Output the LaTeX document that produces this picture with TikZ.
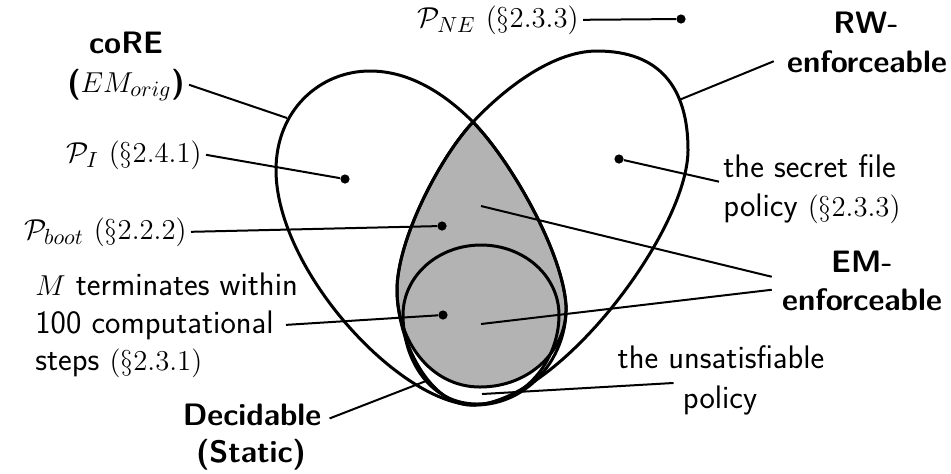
\documentclass[tikz,border=0pt]{standalone}
\usetikzlibrary{calc}
\definecolor{emgray}{RGB}{179,179,179}
\newcommand{\mth}[1]{{\fontsize{15.5}{19}\selectfont$#1$}}
\tikzset{
  setline/.style={line width=1.5pt, line join=round},
  leader/.style={line width=1pt},
  dotnode/.style={circle, fill=black, inner sep=0pt, minimum size=4.6pt},
  lbl/.style={inner sep=2pt, font=\sffamily\fontsize{16.3}{19}\selectfont},
  blbl/.style={inner sep=2pt, font=\sffamily\bfseries\fontsize{15.5}{19}\selectfont},
}
\begin{document}
\begin{tikzpicture}[x=0.5pt,y=-0.5pt]
\useasboundingbox (0,0) rectangle (951,473);
% key points
\coordinate (X) at (473,122);
\coordinate (R) at (566,305);
\coordinate (L) at (397,290);
% EM-enforceable (gray)
\fill[emgray] (X) .. controls (510,160) and (562,250) .. (R)
  .. controls (568,350) and (530,387) .. (480,387)
  .. controls (430,387) and (397,340) .. (L)
  .. controls (397,240) and (440,157) .. (X) -- cycle;
\draw[setline] (X) .. controls (510,160) and (562,250) .. (R)
  .. controls (568,350) and (530,387) .. (480,387)
  .. controls (430,387) and (397,340) .. (L)
  .. controls (397,240) and (440,157) .. (X) -- cycle;
% coRE
\draw[setline] (X) .. controls (510,160) and (562,250) .. (R)
  .. controls (568,355) and (530,405) .. (475,405)
  .. controls (400,405) and (276,270) .. (276,170)
  .. controls (276,110) and (320,71) .. (370,71)
  .. controls (410,71) and (445,94) .. (X) -- cycle;
% RW-enforceable
\draw[setline] (X) .. controls (500,93) and (550,51) .. (597,51)
  .. controls (660,51) and (688,88) .. (688,150)
  .. controls (688,230) and (560,400) .. (475,405)
  .. controls (430,408) and (397,340) .. (L)
  .. controls (397,240) and (440,157) .. (X) -- cycle;
% Decidable (Static)
\draw[setline] (481,245) .. controls (524,245) and (559,276) .. (559,315)
  .. controls (559,360) and (525,404) .. (477,404)
  .. controls (430,404) and (403,360) .. (403,315)
  .. controls (403,276) and (438,245) .. (481,245) -- cycle;

% labels
\node[lbl, anchor=base east] (pne) at (583,27) {\mth{\mathcal{P}_{NE}} \mth{(\S2.3.3)}};
\node[dotnode] (dne) at (681,19) {};
\draw[leader] (pne.east) -- (dne);

\node[blbl, anchor=base] (core1) at (126,53) {coRE};
\node[blbl, anchor=base] (core2) at (126,92) {(\mth{EM_{orig}})};
\coordinate (ccore) at (287,118);
\draw[leader] (core2.east) -- (ccore);

\node[lbl, anchor=base east] (pi) at (206,162) {\mth{\mathcal{P}_I} \mth{(\S2.4.1)}};
\node[dotnode] (dpi) at (345,179) {};
\draw[leader] (pi.east) -- (dpi);

\node[lbl, anchor=base east] (pb) at (191,239) {\mth{\mathcal{P}_{boot}} \mth{(\S2.2.2)}};
\node[dotnode] (dpb) at (442,226) {};
\draw[leader] (pb.east) -- (dpb);

\node[lbl, anchor=base west] (mt1) at (31,295) {\mth{M} terminates within};
\node[lbl, anchor=base west] (mt2) at (31,333) {100 computational};
\node[lbl, anchor=base west] (mt3) at (31,370) {steps \mth{(\S2.3.1)}};
\node[dotnode] (dm) at (443,315) {};
\draw[leader] ([xshift=4pt]mt2.east) -- (dm);

\node[blbl, anchor=base] (dec1) at (252,425) {Decidable};
\node[blbl, anchor=base] (dec2) at (251,462) {(Static)};
\coordinate (cdec) at (426,381);
\draw[leader] ([xshift=2pt,yshift=-2pt]dec1.east) -- (cdec);

\node[blbl, anchor=base] (rw1) at (866,33) {RW-};
\node[blbl, anchor=base] (rw2) at (867,72) {enforceable};
\coordinate (crw) at (679,100);
\draw[leader] ([xshift=-4.5pt]rw2.west) -- (crw);

\node[lbl, anchor=base west] (sf1) at (719,177) {the secret file};
\node[lbl, anchor=base west] (sf2) at (719,216) {policy \mth{(\S2.3.3)}};
\node[dotnode] (dsf) at (619,159) {};
\draw[leader] (sf1.south west) -- (dsf);

\node[blbl, anchor=base] (em1) at (862,272) {EM-};
\node[blbl, anchor=base] (em2) at (862,310) {enforceable};
\coordinate (cem1) at (481,206);
\coordinate (cem2) at (481,324);
\draw[leader] ($(em2.north west)+(-6,-7)$) -- (cem1);
\draw[leader] ($(em2.north west)+(-6,6)$) -- (cem2);

\node[lbl, anchor=base] (us1) at (721,368) {the unsatisfiable};
\node[lbl, anchor=base] (us2) at (720,408) {policy};
\coordinate (cus) at (482,394);
\draw[leader] ($(us2.north west)+(-5,2)$) -- (cus);
\end{tikzpicture}
\end{document}
